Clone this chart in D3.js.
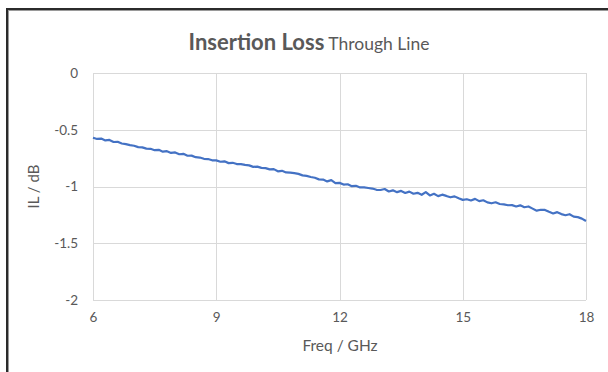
<!DOCTYPE html>
<html>
<head>
<meta charset="utf-8">
<script src="https://cdn.jsdelivr.net/npm/d3@7"></script>
<style>
  html, body { margin: 0; padding: 0; background: #fff; }
  svg { display: block; }
  text { font-family: Lato, "Open Sans", sans-serif; fill: #595959; }
</style>
</head>
<body>
<svg id="chart" width="608" height="372"></svg>
<script>
// Through-line insertion loss sweep, 6–18 GHz in 0.1 GHz steps
const sweepStart = 6;
const sweepStep = 0.1;
const ilValues = [
  -0.570, -0.581, -0.578, -0.594, -0.590, -0.608, -0.606, -0.621, -0.627, -0.636,
  -0.641, -0.653, -0.655, -0.666, -0.668, -0.680, -0.677, -0.693, -0.689, -0.704,
  -0.700, -0.716, -0.712, -0.729, -0.728, -0.742, -0.745, -0.756, -0.758, -0.769,
  -0.770, -0.782, -0.778, -0.794, -0.791, -0.802, -0.803, -0.810, -0.814, -0.827,
  -0.825, -0.836, -0.838, -0.849, -0.847, -0.866, -0.862, -0.876, -0.877, -0.882,
  -0.889, -0.902, -0.906, -0.916, -0.923, -0.937, -0.939, -0.955, -0.944, -0.970,
  -0.968, -0.983, -0.980, -0.997, -0.994, -1.008, -1.008, -1.013, -1.018, -1.029,
  -1.031, -1.022, -1.044, -1.034, -1.050, -1.039, -1.057, -1.045, -1.064, -1.056,
  -1.073, -1.049, -1.079, -1.064, -1.085, -1.072, -1.083, -1.095, -1.087, -1.104,
  -1.118, -1.112, -1.123, -1.109, -1.129, -1.121, -1.140, -1.148, -1.139, -1.154,
  -1.158, -1.165, -1.164, -1.176, -1.166, -1.183, -1.176, -1.195, -1.213, -1.205,
  -1.206, -1.223, -1.238, -1.226, -1.243, -1.253, -1.244, -1.265, -1.270, -1.283,
  -1.304
];
const xTicks = [6, 9, 12, 15, 18];
const yTicks = [0, -0.5, -1, -1.5, -2];

const points = ilValues.map((v, i) => ({ f: sweepStart + i * sweepStep, il: v }));

const svg = d3.select("#chart");
const plot = { left: 93, right: 586, top: 73, bottom: 300 };

const x = d3.scaleLinear().domain([6, 18]).range([plot.left, plot.right]);
const y = d3.scaleLinear().domain([-2, 0]).range([plot.bottom, plot.top]);

// Outer frame (top and left edges)
svg.append("line").attr("x1", 7).attr("x2", 608).attr("y1", 10.5).attr("y2", 10.5)
  .attr("stroke", "#9a9a9a").attr("stroke-width", 1);
svg.append("line").attr("x1", 7).attr("x2", 608).attr("y1", 9).attr("y2", 9)
  .attr("stroke", "#2b2b2b").attr("stroke-width", 2);
svg.append("line").attr("x1", 8.5).attr("x2", 8.5).attr("y1", 10).attr("y2", 372)
  .attr("stroke", "#9a9a9a").attr("stroke-width", 1);
svg.append("line").attr("x1", 7).attr("x2", 7).attr("y1", 8).attr("y2", 372)
  .attr("stroke", "#2b2b2b").attr("stroke-width", 2);

// Gridlines
const grid = svg.append("g").attr("stroke", "#d9d9d9").attr("stroke-width", 1);
grid.selectAll(".gy").data(yTicks).join("line")
  .attr("x1", plot.left).attr("x2", plot.right)
  .attr("y1", d => Math.round(y(d)) + 0.5).attr("y2", d => Math.round(y(d)) + 0.5);
grid.selectAll(".gx").data(xTicks).join("line")
  .attr("y1", plot.top).attr("y2", plot.bottom)
  .attr("x1", d => Math.round(x(d)) + 0.5).attr("x2", d => Math.round(x(d)) + 0.5);

// Axes (labels only, lines come from the grid)
const xAxis = svg.append("g").attr("transform", `translate(0,${plot.bottom + 9})`)
  .call(d3.axisBottom(x).tickValues(xTicks).tickSize(0).tickFormat(d3.format("d")));
xAxis.select(".domain").remove();
xAxis.selectAll("text").attr("font-size", 13.5).attr("fill", "#595959")
  .attr("font-family", "Lato, 'Open Sans', sans-serif");

const yAxis = svg.append("g").attr("transform", `translate(${plot.left - 12},0)`)
  .call(d3.axisLeft(y).tickValues(yTicks).tickSize(0).tickFormat(d => d === 0 ? "0" : String(d)));
yAxis.select(".domain").remove();
yAxis.selectAll("text").attr("font-size", 13.5).attr("fill", "#595959")
  .attr("font-family", "Lato, 'Open Sans', sans-serif");

// Data line
svg.append("path").datum(points)
  .attr("fill", "none")
  .attr("stroke", "#4472C4")
  .attr("stroke-width", 2.2)
  .attr("stroke-linejoin", "round")
  .attr("d", d3.line().x(d => x(d.f)).y(d => y(d.il)));

// Title
const title = svg.append("text").attr("x", 309).attr("y", 50).attr("text-anchor", "middle");
title.append("tspan").attr("font-size", 22).attr("font-weight", "bold").text("Insertion Loss");
title.append("tspan").attr("font-size", 17.5).text(" Through Line");

// Axis titles
svg.append("text").attr("x", 340).attr("y", 351)
  .attr("text-anchor", "middle").attr("font-size", 15.5).text("Freq / GHz");
svg.append("text").attr("transform", `translate(39,${(plot.top + plot.bottom) / 2}) rotate(-90)`)
  .attr("text-anchor", "middle").attr("font-size", 15).text("IL / dB");
</script>
</body>
</html>
